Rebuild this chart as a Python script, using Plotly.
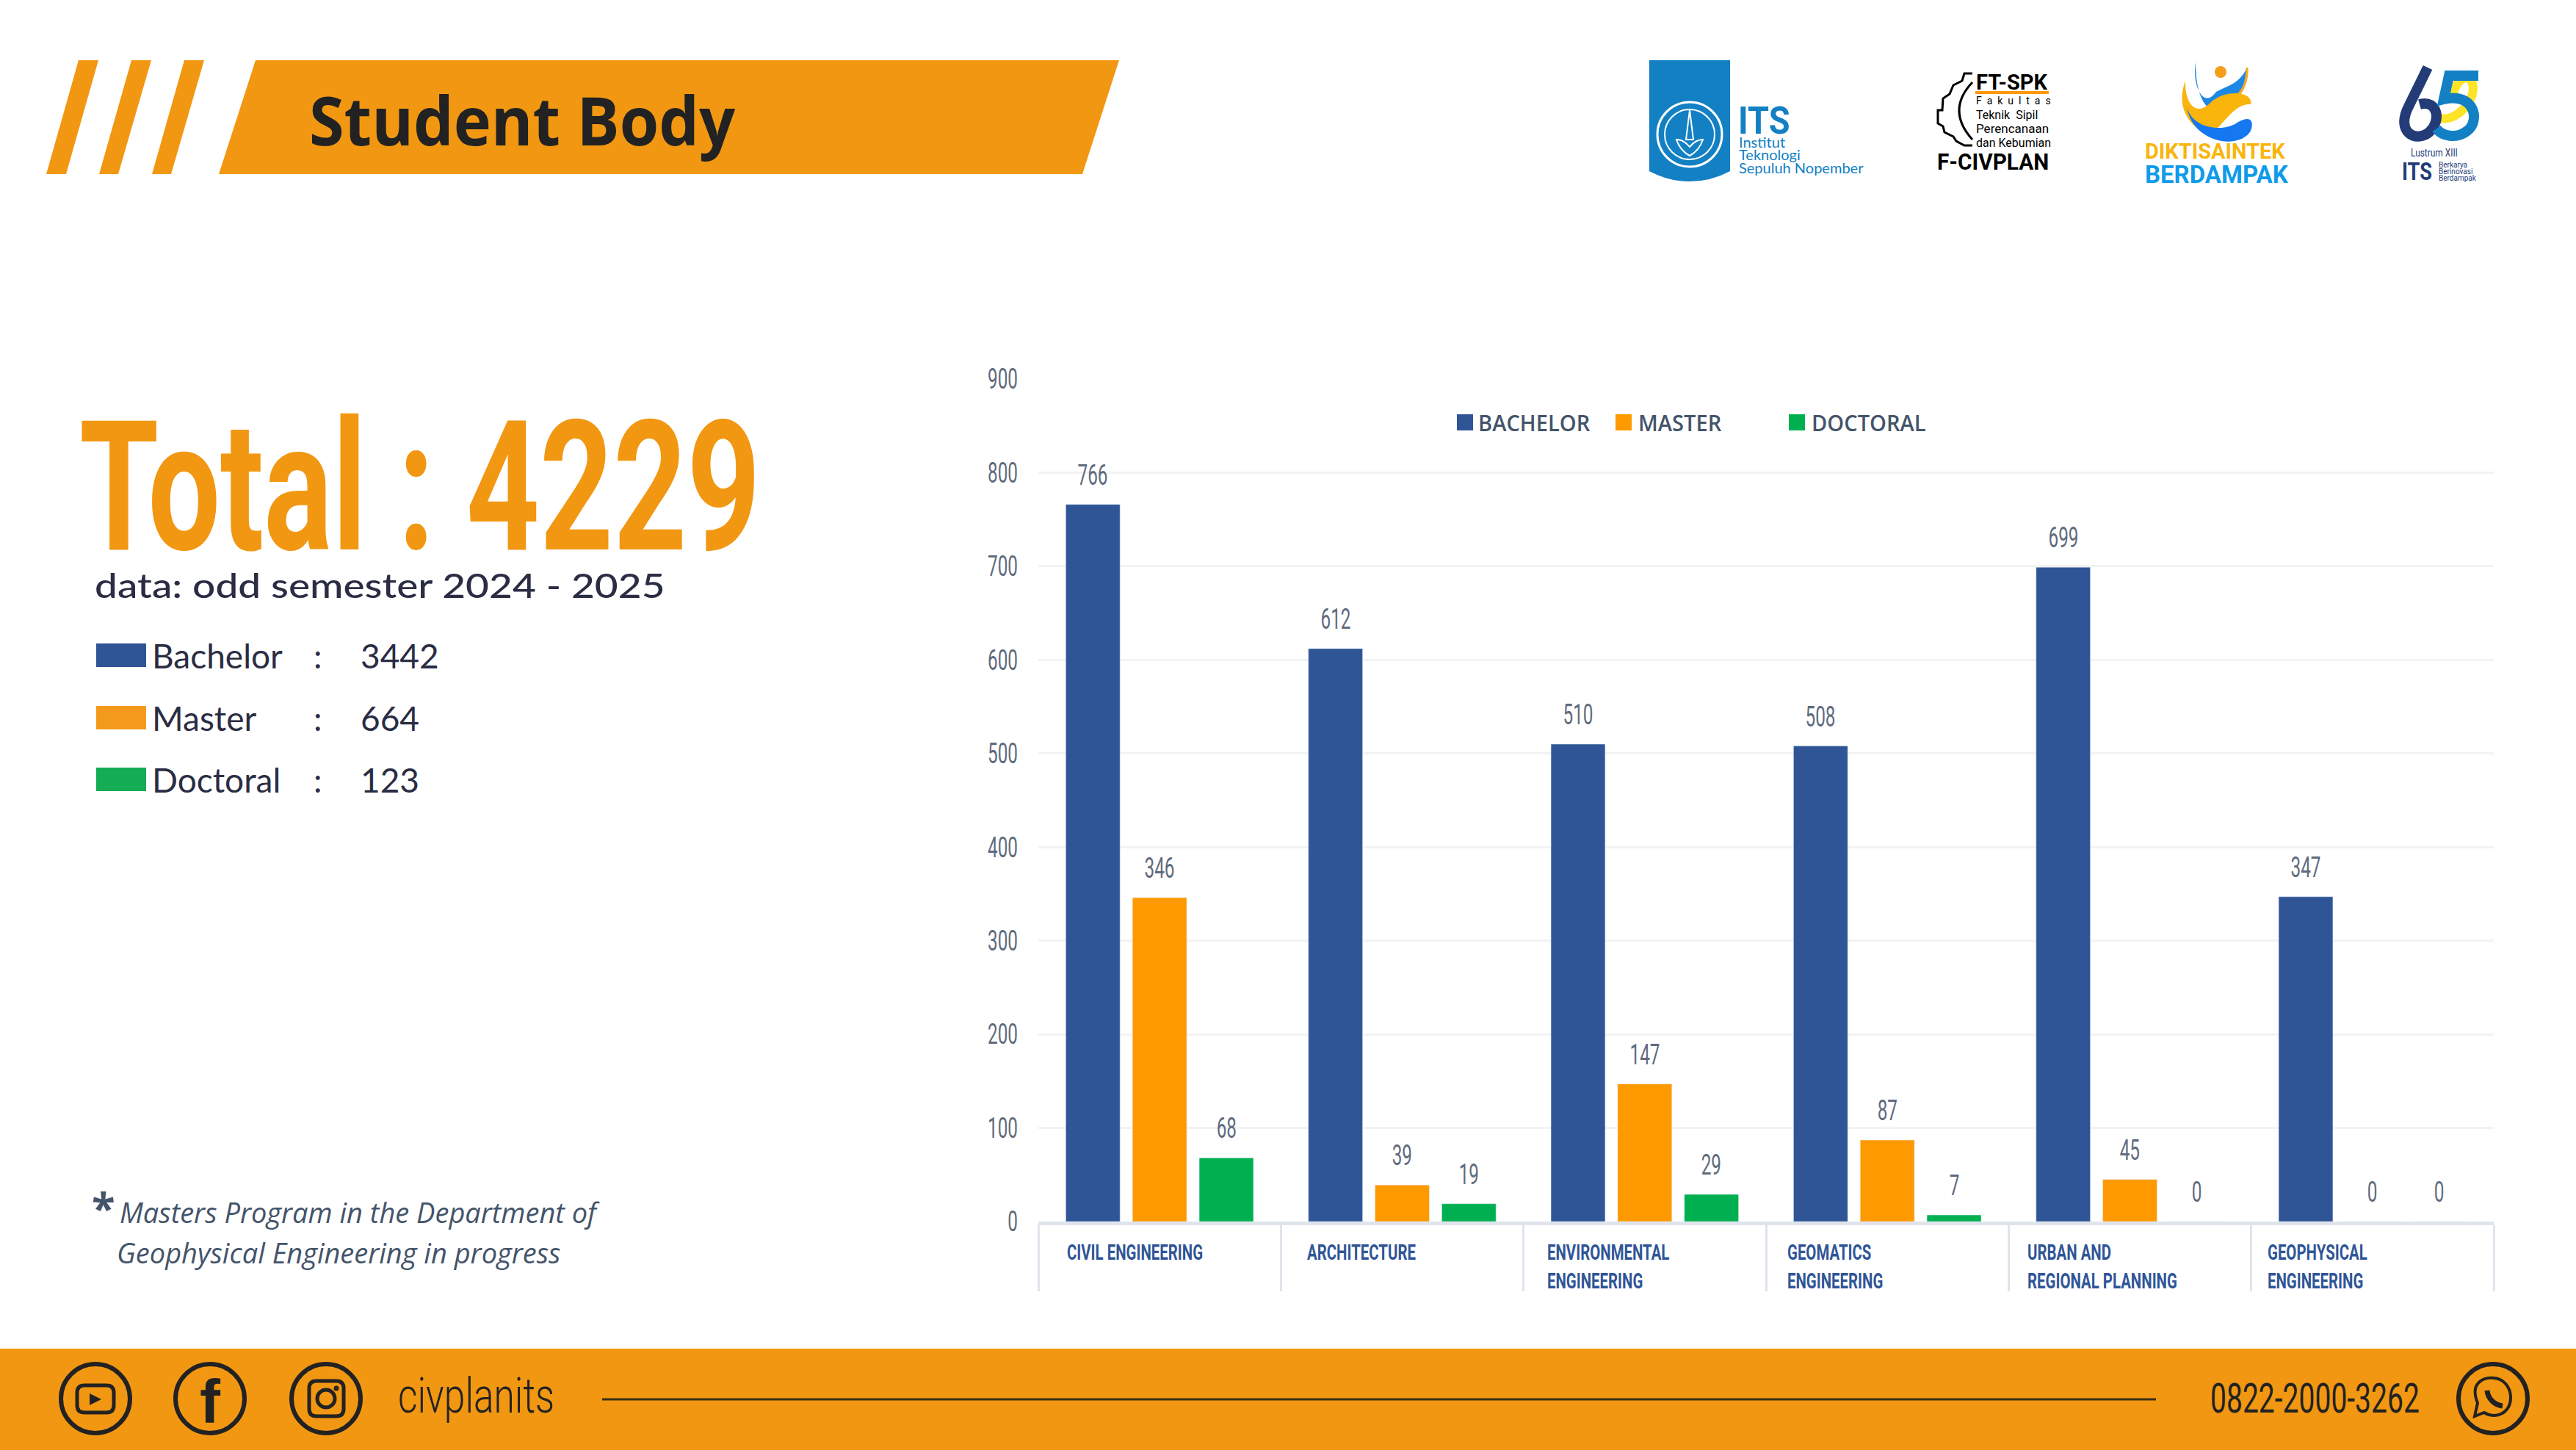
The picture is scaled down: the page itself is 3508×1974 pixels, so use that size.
import plotly.graph_objects as go

departments = ["CIVIL ENGINEERING", "ARCHITECTURE", "ENVIRONMENTAL<br>ENGINEERING", "GEOMATICS<br>ENGINEERING",
               "URBAN AND<br>REGIONAL PLANNING", "GEOPHYSICAL<br>ENGINEERING"]
bachelor = [766, 612, 510, 508, 699, 347]
master = [346, 39, 147, 87, 45, 0]
doctoral = [68, 19, 29, 7, 0, 0]
y_ticks = [0, 100, 200, 300, 400, 500, 600, 700, 800, 900]

summary_names = ["Bachelor", "Master", "Doctoral"]
summary_values = [3442, 664, 123]

BLUE = "#2F5597"
ORANGE = "#FF9900"
GREEN = "#00B050"
BAND = "#F29712"
INK = "#222222"

shapes = []
notes = []


def squeezed(percent, family="Roboto"):
    # no condensed font is installed: the script at the end of the file squeezes these texts sideways
    return f"Squeeze{percent}, {family}"


def poly(points, color):
    d = "M" + "L".join(f"{x},{y}" for x, y in points) + "Z"
    shapes.append(dict(type="path", path=d, xref="x2", yref="y2", fillcolor=color, line_width=0))


def curve(d, fill=None, line=None, width=0):
    shapes.append(dict(type="path", path=d, xref="x2", yref="y2", fillcolor=fill,
                       line=dict(color=line, width=width)))


def rect(x0, y0, x1, y1, color):
    shapes.append(dict(type="rect", x0=x0, y0=y0, x1=x1, y1=y1, xref="x2", yref="y2",
                       fillcolor=color, line_width=0))


def ring(cx, cy, r, line=INK, width=5, fill=None):
    shapes.append(dict(type="circle", x0=cx - r, y0=cy - r, x1=cx + r, y1=cy + r, xref="x2", yref="y2",
                       fillcolor=fill, line=dict(color=line, width=width)))


def label(x, y, text, size, color=INK, family="Roboto", anchor="left", weight=None, style=None):
    notes.append(dict(x=x, y=y, xref="x2", yref="y2", text=text, showarrow=False, xanchor=anchor,
                      yanchor="middle", align="left", borderpad=0,
                      font=dict(family=family, size=size, color=color, weight=weight, style=style)))


# header banner
for top_l, top_r, bot_l, bot_r in [(107, 134, 63, 90), (179, 206, 135, 161), (251, 278, 207, 233), (348, 1524, 298, 1474)]:
    poly([(top_l, 82), (top_r, 82), (bot_r, 237), (bot_l, 237)], BAND)
label(420, 162, "Student Body", 92, family=squeezed(94, "Open Sans"), weight=700)

# left block
label(107, 664, "Total : 4229", 246, color=BAND, family=squeezed(71), weight=700)
label(128, 796, "data: odd semester 2024 - 2025", 47, color="#2A2D43", family=squeezed(117, "Lato"), weight=500)
for name, value, color, ypos in zip(summary_names, summary_values, ["#2F5597", "#F39A1C", "#14AC54"], [892, 977, 1061]):
    rect(131, ypos - 16, 199, ypos + 16, color)
    label(206, ypos, name, 46, color="#2A2D43", family="Lato")
    label(426, ypos, ":", 46, color="#2A2D43", family="Lato")
    label(490, ypos, str(value), 46, color="#2A2D43", family="Lato")

label(124, 1643, "*", 58, color="#44546A", family="Open Sans", weight=700)
label(162, 1650, "Masters Program in the Department of", 38, color="#44546A", family="Open Sans", style="italic")
label(158, 1705, "Geophysical Engineering in progress", 38, color="#44546A", family="Open Sans", style="italic")

# chart legend, placed by hand because the gaps are uneven
for name, color, sx, tx in [("BACHELOR", BLUE, 1984, 2012), ("MASTER", ORANGE, 2200, 2230), ("DOCTORAL", GREEN, 2436, 2466)]:
    rect(sx, 564, sx + 22, 586, color)
    label(tx, 575, name, 30, color="#44546A", family=squeezed(97, "Open Sans"), weight=600)

# department names under the axis
for i, name in enumerate(departments):
    notes.append(dict(x=1452 + 327 * i, y=1686, xref="x2", yref="y2", text=name, showarrow=False, xanchor="left",
                      yanchor="top", align="left", borderpad=0,
                      font=dict(family=squeezed(68), size=30, color=BLUE, weight=700)))

# value labels above the bars
for offset, values in zip([-0.275, 0, 0.275], [bachelor, master, doctoral]):
    for i, v in enumerate(values):
        notes.append(dict(x=i + offset, y=v, xref="x", yref="y", text=str(v), showarrow=False, yanchor="bottom",
                          yshift=16, font=dict(family=squeezed(64), size=38, color="#5F6B7E")))

# footer
rect(0, 1836, 3508, 1974, BAND)
for cx in [130, 286, 444, 3395]:
    ring(cx, 1904, 47, width=6)
shapes.append(dict(type="line", x0=820, x1=2936, y0=1905, y1=1905, xref="x2", yref="y2", line=dict(color="#3A2F15", width=3)))
curve("M115,1886H145Q155,1886 155,1896V1913Q155,1923 145,1923H115Q105,1923 105,1913V1896Q105,1886 115,1886Z", line=INK, width=5)
poly([(122, 1897), (138, 1905), (122, 1913)], INK)
label(286, 1908, "f", 84, family="Liberation Sans", anchor="center", weight=700)
curve("M431,1880H458Q468,1880 468,1890V1918Q468,1928 458,1928H431Q421,1928 421,1918V1890Q421,1880 431,1880Z", line=INK, width=5)
ring(444, 1904, 12, width=5)
ring(458, 1890, 2, width=3)
label(541, 1900, "civplanits", 66, family=squeezed(78), weight=300)
label(3009, 1904, "0822-2000-3262", 55, family=squeezed(71))
curve("M3370,1928L3374,1910C3362,1880 3385,1875 3396,1876C3425,1878 3428,1925 3397,1927C3390,1927 3386,1925 3383,1923Z", line=INK, width=4)
curve("M3387,1893C3388,1905 3398,1913 3408,1914", line=INK, width=7)

# ITS logo
curve("M2246,82H2356V233Q2330,247 2301,247Q2272,247 2246,233Z", fill="#1380C4")
ring(2301, 183, 44, line="white", width=3)
ring(2301, 183, 34, line="white", width=2)
curve("M2283,190Q2288,205 2301,212Q2314,205 2319,190Q2309,190 2301,200Q2293,190 2283,190Z", line="white", width=2)
curve("M2301,150L2296,190H2306Z", line="white", width=2)
label(2366, 164, "ITS", 52, color="#1380C4", family=squeezed(90), weight=700)
for ypos, line_text in zip([193, 210, 228], ["Institut", "Teknologi", "Sepuluh Nopember"]):
    label(2367, ypos, line_text, 20, color="#1380C4", family="Lato")

# F-CIVPLAN logo
curve("M2686,100H2675L2672,110L2660,116L2655,128L2646,134L2645,150H2639V168L2646,172L2648,180L2660,186L2664,192L2675,198H2686", line="black", width=3)
curve("M2686,112Q2650,150 2686,190", line="black", width=3)
label(2690, 112, "FT-SPK", 29, color="black", family="Roboto", weight=700)
rect(2690, 124, 2790, 128, ORANGE)
label(2690, 137, "F  a  k  u  l  t  a  s", 14, color="black")
label(2690, 156, "Teknik  Sipil", 16, color="black")
label(2690, 175, "Perencanaan", 17, color="black")
label(2690, 194, "dan Kebumian", 16, color="black")
label(2637, 220, "F-CIVPLAN", 31, color="black", family=squeezed(96), weight=700)

# Diktisaintek logo
curve("M2990,85C2985,115 3000,150 3018,125C3030,118 3050,115 3060,92C3062,125 3040,135 3030,145C3010,160 2990,140 2990,85Z", fill="#1E88E5")
curve("M3060,92C3062,125 3040,135 3030,145C3045,135 3060,125 3060,92Z", fill="#F9A825", line="#F9A825", width=3)
ring(3024, 98, 8, line="#F59E1B", width=0, fill="#F59E1B")
curve("M2976,110C2965,140 2975,165 3000,180C3020,192 3035,140 3065,142C3070,125 3030,120 3010,140C2990,160 2975,140 2976,110Z", fill="#F9B50C")
curve("M2978,145C2985,175 3025,180 3045,168C3065,155 3070,165 3065,178C3050,205 2985,195 2978,145Z", fill="#1678F0")
label(2920, 206, "DIKTISAINTEK", 29, color="#F9B50C", family="Roboto", weight=700)
label(2920, 237, "BERDAMPAK", 33, color="#0F9BEA", family="Roboto", weight=700)

# Lustrum logo
curve("M3320,160C3345,170 3378,130 3365,110C3358,100 3345,110 3340,130", line="#FDE427", width=12)
curve("M3306,92L3280,145C3262,180 3290,195 3308,180C3325,165 3320,135 3295,142", line="#233C78", width=14)
curve("M3375,103H3335L3328,135C3370,125 3378,165 3360,178C3345,190 3325,185 3318,175", line="#1380C4", width=14)
label(3320, 208, "Lustrum XIII", 14, color="#233C78", anchor="center", family=squeezed(85))
label(3270, 233, "ITS", 34, color="#233C78", family=squeezed(80), weight=700)
for ypos, line_text in zip([224, 233, 242], ["Berkarya", "Berinovasi", "Berdampak"]):
    label(3320, ypos, line_text, 10, color="#233C78")

fig = go.Figure()
for name, values, color in [("Bachelor", bachelor, BLUE), ("Master", master, ORANGE), ("Doctoral", doctoral, GREEN)]:
    fig.add_trace(go.Bar(x=departments, y=values, name=name, marker_color=color, showlegend=False))

fig.update_layout(
    width=3508, height=1974, autosize=False, paper_bgcolor="white", plot_bgcolor="rgba(0,0,0,0)",
    margin=dict(l=0, r=0, t=0, b=0, autoexpand=False),
    barmode="group", bargap=0.175, bargroupgap=0.187,
    shapes=shapes, annotations=notes,
    xaxis=dict(domain=[1414 / 3508, 3396 / 3508], type="category", tickson="boundaries", ticks="outside", ticklen=90,
               tickwidth=3, tickcolor="#DFE4EC", linecolor="#DFE4EC", linewidth=5, showticklabels=False, showgrid=False),
    yaxis=dict(domain=[1 - 1663 / 1974, 1 - 516 / 1974], range=[0, 900], tickmode="array", tickvals=y_ticks,
               gridcolor="#F3F3F3", gridwidth=3, zeroline=False, showline=False, ticklabelstandoff=27,
               tickfont=dict(family=squeezed(64), size=38, color="#5F6B7E")),
    xaxis2=dict(domain=[0, 1], range=[0, 3508], anchor="y2", visible=False, fixedrange=True),
    yaxis2=dict(domain=[0, 1], range=[1974, 0], anchor="x2", visible=False, fixedrange=True),
)

squeeze_text = """
document.body.style.margin = '0';
document.querySelectorAll('svg text').forEach(function (t) {
    var m = /Squeeze(\\d+)/.exec(t.style.fontFamily);
    if (!m) return;
    var x = parseFloat(t.getAttribute('x')) || 0;
    var old = t.getAttribute('transform') || '';
    t.setAttribute('transform', old + ' translate(' + x + ',0) scale(' + m[1] / 100 + ',1) translate(' + -x + ',0)');
});
"""
fig.write_html("out.html", post_script=squeeze_text, config={"displayModeBar": False})
